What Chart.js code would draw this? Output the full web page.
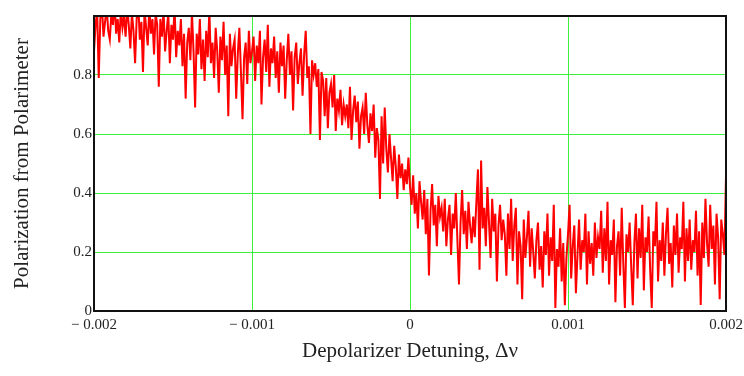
<!DOCTYPE html>
<html>
<head>
<meta charset="utf-8">
<script src="https://cdn.jsdelivr.net/npm/chart.js@4"></script>
<style>
  html, body { margin: 0; padding: 0; background: #fff; overflow: hidden; width: 744px; height: 376px; }
</style>
</head>
<body>
<canvas id="chart" width="760" height="376"></canvas>
<script>
// sample spacing along the detuning axis
const X_START = -0.002;
const X_STEP = 0.00001;

// polarization readings, one per sample
const polarization = [
  0.88, 0.97, 1.02, 0.79, 0.99, 1.04, 0.93, 0.98, 1.03, 0.95, 0.92, 1.01, 0.97, 1.05, 0.94, 0.99, 0.91, 1.02, 0.96, 1.00,
  0.93, 1.03, 0.97, 0.89, 1.01, 0.95, 0.84, 0.99, 1.04, 0.92, 0.98, 0.81, 1.02, 0.96, 0.90, 1.03, 0.94, 0.99, 0.87, 1.01,
  0.97, 0.76, 0.99, 0.93, 1.02, 0.88, 0.95, 1.01, 0.84, 0.97, 0.92, 1.03, 0.86, 0.95, 0.90, 0.99, 0.83, 0.94, 0.72, 0.91,
  0.96, 0.85, 1.01, 0.88, 0.69, 0.94, 0.87, 0.99, 0.82, 0.92, 0.78, 0.95, 0.86, 1.02, 0.84, 0.91, 0.79, 0.96, 0.88, 0.74,
  0.93, 0.85, 0.98, 0.80, 0.90, 0.66, 0.94, 0.83, 0.89, 0.92, 0.72, 0.87, 0.96, 0.81, 0.65, 0.86, 0.91, 0.77, 0.95, 0.84,
  0.88, 0.93, 0.78, 0.90, 0.84, 0.95, 0.70, 0.86, 0.92, 0.81, 0.97, 0.76, 0.89, 0.84, 0.93, 0.79, 0.88, 0.74, 0.91, 0.83,
  0.90, 0.72, 0.85, 0.94, 0.80, 0.88, 0.68, 0.86, 0.91, 0.77, 0.84, 0.89, 0.73, 0.87, 0.95, 0.79, 0.83, 0.60, 0.85, 0.80,
  0.84, 0.76, 0.82, 0.58, 0.81, 0.78, 0.66, 0.79, 0.62, 0.74, 0.77, 0.69, 0.80, 0.61, 0.72, 0.68, 0.75, 0.63, 0.70, 0.66,
  0.70, 0.62, 0.76, 0.58, 0.68, 0.73, 0.64, 0.71, 0.55, 0.66, 0.69, 0.60, 0.74, 0.63, 0.57, 0.67, 0.61, 0.70, 0.52, 0.62,
  0.58, 0.38, 0.66, 0.50, 0.69, 0.55, 0.47, 0.60, 0.52, 0.44, 0.56, 0.49, 0.38, 0.53, 0.45, 0.50, 0.41, 0.48, 0.43, 0.52,
  0.42, 0.36, 0.46, 0.33, 0.40, 0.28, 0.44, 0.37, 0.31, 0.41, 0.26, 0.38, 0.12, 0.34, 0.43, 0.29, 0.36, 0.22, 0.39, 0.32,
  0.35, 0.27, 0.38, 0.22, 0.31, 0.36, 0.19, 0.33, 0.28, 0.40, 0.24, 0.09, 0.30, 0.41, 0.26, 0.34, 0.21, 0.37, 0.29, 0.23,
  0.32, 0.25, 0.37, 0.48, 0.14, 0.51, 0.28, 0.35, 0.22, 0.42, 0.30, 0.18, 0.38, 0.27, 0.33, 0.10, 0.29, 0.36, 0.24, 0.31,
  0.26, 0.12, 0.33, 0.21, 0.38, 0.17, 0.29, 0.35, 0.09, 0.27, 0.22, 0.04, 0.31, 0.18, 0.25, 0.34, 0.15, 0.28, 0.20, 0.11,
  0.24, 0.30, 0.14, 0.22, 0.08, 0.27, 0.19, 0.33, 0.12, 0.25, 0.17, 0.36, 0.01, 0.21, 0.15, 0.28, 0.10, 0.23, 0.02, 0.18,
  0.26, 0.36, 0.11, 0.22, 0.29, 0.06, 0.19, 0.31, 0.14, 0.24, 0.20, 0.33, 0.09, 0.27, 0.16, 0.23, 0.12, 0.30, 0.18, 0.25,
  0.21, 0.34, 0.13, 0.28, 0.17, 0.37, 0.09, 0.24, 0.19, 0.31, 0.03, 0.22, 0.27, 0.12, 0.35, 0.16, 0.01, 0.26, 0.20, 0.30,
  0.15, 0.02, 0.23, 0.33, 0.11, 0.28, 0.18, 0.36, 0.07, 0.25, 0.20, 0.32, 0.14, 0.01, 0.27, 0.22, 0.37, 0.10, 0.24, 0.17,
  0.30, 0.12, 0.26, 0.35, 0.16, 0.23, 0.08, 0.29, 0.19, 0.33, 0.13, 0.25, 0.21, 0.37, 0.10, 0.28, 0.17, 0.31, 0.14, 0.24,
  0.20, 0.34, 0.12, 0.27, 0.02, 0.30, 0.18, 0.38, 0.23, 0.15, 0.36, 0.21, 0.29, 0.09, 0.33, 0.25, 0.04, 0.31, 0.26, 0.19,
  0.46
];

const xTicks = [-0.002, -0.001, 0, 0.001, 0.002];
const yTicks = [0, 0.2, 0.4, 0.6, 0.8];

const points = polarization.map((v, i) => ({ x: X_START + i * X_STEP, y: v }));

const GREEN = '#3cf03c';
const FONT = 'Liberation Serif';

// black frame around the plot area
const frame = {
  id: 'frame',
  afterDraw(chart) {
    const { ctx, chartArea: a } = chart;
    ctx.save();
    ctx.strokeStyle = '#111';
    ctx.lineWidth = 2;
    ctx.strokeRect(a.left, a.top, a.right - a.left, a.bottom - a.top);
    ctx.restore();
  }
};

function fmtX(v) {
  v = Math.round(v * 1e4) / 1e4;
  if (v === 0) return '0';
  return v < 0 ? '\u2212 ' + (-v).toFixed(3) : v.toFixed(3);
}

new Chart(document.getElementById('chart').getContext('2d'), {
  type: 'line',
  data: {
    datasets: [{
      data: points,
      borderColor: '#ff0000',
      borderWidth: 2,
      pointRadius: 0,
      tension: 0,
      fill: false,
      clip: 0
    }]
  },
  options: {
    responsive: false,
    animation: false,
    layout: { padding: { top: 16, right: 34, left: 0, bottom: 0 } },
    plugins: { legend: { display: false }, tooltip: { enabled: false } },
    scales: {
      x: {
        type: 'linear',
        min: -0.002,
        max: 0.002,
        afterBuildTicks: s => { s.ticks = xTicks.map(v => ({ value: v })); },
        afterFit: s => { s.height = 65; },
        grid: {
          color: c => (c.index === 0 || c.index === xTicks.length - 1) ? 'transparent' : GREEN,
          lineWidth: 1,
          drawTicks: false
        },
        border: { display: false },
        ticks: {
          callback: v => fmtX(v),
          color: '#222',
          padding: 5,
          maxRotation: 0,
          font: { family: FONT, size: 15 }
        },
        title: {
          display: true,
          text: 'Depolarizer Detuning, \u0394\u03bd',
          color: '#222',
          padding: { bottom: 12 },
          font: { family: FONT, size: 21 }
        }
      },
      y: {
        min: 0,
        max: 1,
        afterBuildTicks: s => { s.ticks = yTicks.map(v => ({ value: v })); },
        afterFit: s => { s.width = 94; },
        grid: {
          color: c => c.index === 0 ? 'transparent' : GREEN,
          lineWidth: 1,
          drawTicks: false
        },
        border: { display: false },
        ticks: {
          callback: v => v === 0 ? '0' : v.toFixed(1),
          color: '#222',
          padding: 2,
          font: { family: FONT, size: 15 }
        },
        title: {
          display: true,
          text: 'Polarization from Polarimeter',
          color: '#222',
          padding: { top: 10 },
          font: { family: FONT, size: 21 }
        }
      }
    }
  },
  plugins: [frame]
});
</script>
</body>
</html>
